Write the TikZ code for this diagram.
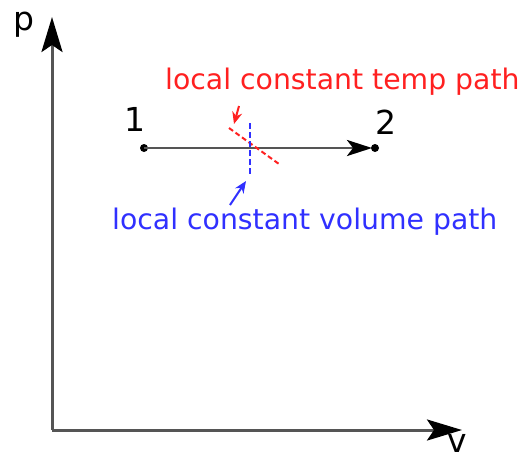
\documentclass[tikz,border=0pt]{standalone}
\usepackage{fontspec}
\setmainfont{DejaVu Sans}
\usetikzlibrary{arrows.meta}
\definecolor{myred}{HTML}{FF2020}
\definecolor{myblue}{HTML}{3030FF}
\definecolor{axgray}{HTML}{555555}
\begin{document}
\begin{tikzpicture}[x=1pt,y=-1pt,
  axis/.style={draw=axgray,line width=3pt,-{Stealth[length=35pt,width=21pt,inset=7pt,color=black]}},
  proc/.style={draw=axgray,line width=2.8pt,-{Stealth[length=25pt,width=16pt,inset=6pt,color=black]}},
  dotnode/.style={circle,fill=black,inner sep=0pt,minimum size=8pt},
  lbl/.style={inner sep=0pt,font=\fontsize{33}{36}\selectfont},
  note/.style={inner sep=0pt,anchor=base west,font=\fontsize{28.3}{30}\selectfont},
  pointer/.style={line width=2pt,-{Stealth[length=12pt,width=10pt]}}]
\useasboundingbox (0,0) rectangle (521,459);
\coordinate (O) at (52,430);
\coordinate (ytip) at (52,17);
\coordinate (xtip) at (462,430);
\draw[axis] (O) -- (ytip);
\draw[axis] (O) -- (xtip);
\node[lbl,anchor=base west] (p) at (13,30) {p};
\node[lbl,anchor=base] (v) at (457,452) {v};
\node[dotnode] (s1) at (144,148) {};
\node[dotnode] (s2) at (375,148) {};
\coordinate (s2tip) at (372,148);
\draw[proc] (s1.center) -- (s2tip);
\node[lbl,anchor=base] (l1) at (135,131) {1};
\node[lbl,anchor=base] (l2) at (386,134) {2};
\coordinate (ra) at (229,128);
\coordinate (rb) at (279,164);
\draw[myred,line width=2pt,dash pattern=on 5pt off 3pt] (ra) -- (rb);
\coordinate (ba) at (250,123);
\coordinate (bb) at (250,174);
\draw[myblue,line width=2.4pt,dash pattern=on 6pt off 3pt] (ba) -- (bb);
\node[note,text=myred] (rt) at (165,89) {local constant temp path};
\node[note,text=myblue] (bt) at (112,229) {local constant volume path};
\coordinate (rs) at (239,106);
\coordinate (re) at (234,124);
\draw[pointer,myred] (rs) -- (re);
\coordinate (bs) at (230,205);
\coordinate (be) at (246,181);
\draw[pointer,myblue] (bs) -- (be);
\end{tikzpicture}
\end{document}
